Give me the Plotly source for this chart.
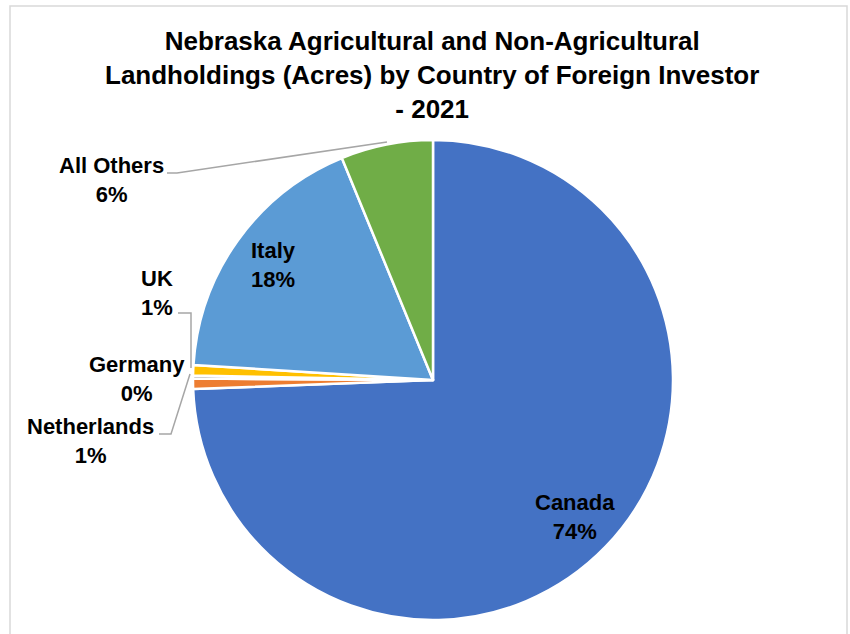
import math
import plotly.graph_objects as go

# Share of foreign-held acres by investor country (percent)
countries = ["Canada", "Netherlands", "Germany", "UK", "Italy", "All Others"]
shares = [74.4, 0.7, 0.2, 0.7, 17.8, 6.2]
colors = ["#4472C4", "#ED7D31", "#A5A5A5", "#FFC000", "#5B9BD5", "#70AD47"]

title_lines = [
    "Nebraska Agricultural and Non-Agricultural",
    "Landholdings (Acres) by Country of Foreign Investor",
    "- 2021",
]

W, H = 850, 634
CX, CY, R = 433, 380, 240  # pie centre and radius in pixels

def px(x):
    return x / W

def py(y):
    return 1 - y / H

total = sum(shares)
pcts = [round(100 * v / total) for v in shares]

fig = go.Figure(
    go.Pie(
        labels=countries,
        values=shares,
        sort=False,
        direction="clockwise",
        rotation=0,
        marker=dict(colors=colors, line=dict(color="white", width=2.5)),
        textinfo="none",
        hoverinfo="label+percent",
        showlegend=False,
        domain=dict(x=[px(CX - R), px(CX + R)], y=[py(CY + R), py(CY - R)]),
    )
)

FONT = "Liberation Sans, Arial, sans-serif"
LABEL_SIZE = 22
annotations = []

# Labels placed inside the two large slices, along each slice's mid-angle
cum = 0.0
mids = []
for v in shares:
    mids.append((cum + v / 2) / total * 360)
    cum += v
for name in ["Canada", "Italy"]:
    i = countries.index(name)
    a = math.radians(mids[i])
    x = CX + 0.82 * R * math.sin(a)
    y = CY - 0.82 * R * math.cos(a)
    annotations.append(dict(
        x=px(x), y=py(y), xref="paper", yref="paper",
        text=f"<b>{name}<br>{pcts[i]}%</b>", showarrow=False,
        font=dict(family=FONT, size=LABEL_SIZE, color="black"),
        xanchor="center", yanchor="middle", align="center",
    ))

# Outside labels for the small slices, with leader lines
outside = {
    "All Others": ((111, 180), [(167, 173), (177, 173), (387, 142)]),
    "UK": ((157, 293), [(178, 313), (191, 313), (191, 368)]),
    "Germany": ((137, 379), None),
    "Netherlands": ((90, 441), [(159, 434), (171, 434), (190, 374)]),
}
shapes = []
for name, ((lx, ly), leader) in outside.items():
    i = countries.index(name)
    annotations.append(dict(
        x=px(lx), y=py(ly), xref="paper", yref="paper",
        text=f"<b>{name}<br>{pcts[i]}%</b>", showarrow=False,
        font=dict(family=FONT, size=LABEL_SIZE, color="black"),
        xanchor="center", yanchor="middle", align="center",
    ))
    if leader:
        path = "M " + " L ".join(f"{px(x):.5f},{py(y):.5f}" for x, y in leader)
        shapes.append(dict(type="path", path=path, xref="paper", yref="paper",
                           line=dict(color="#A6A6A6", width=1.5)))

# Chart title
annotations.append(dict(
    x=px(432), y=py(75), xref="paper", yref="paper",
    text="<b>" + "<br>".join(title_lines) + "</b>", showarrow=False,
    font=dict(family=FONT, size=26, color="black"),
    xanchor="center", yanchor="middle", align="center",
))

# Chart area frame
shapes.append(dict(type="rect", xref="paper", yref="paper",
                   x0=px(10), x1=px(847), y0=-0.02, y1=py(6),
                   line=dict(color="#D9D9D9", width=1.5)))

fig.update_layout(
    width=W, height=H,
    margin=dict(l=0, r=0, t=0, b=0),
    paper_bgcolor="white",
    plot_bgcolor="white",
    annotations=annotations,
    shapes=shapes,
)

fig.write_html("out.html")
